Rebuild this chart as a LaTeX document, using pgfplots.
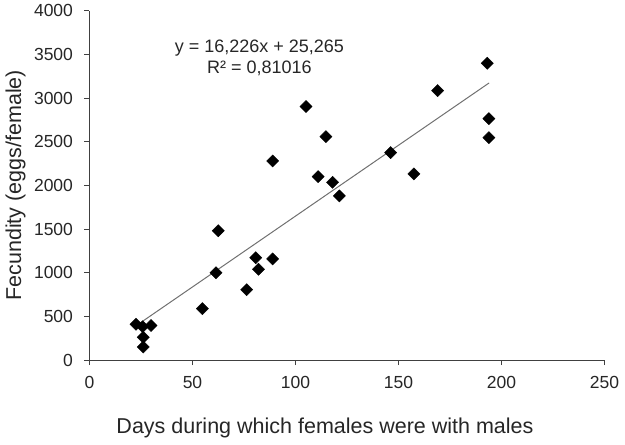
\documentclass[border=0pt]{standalone}
\usepackage{pgfplots}
\pgfplotsset{compat=1.18}
\usepackage{fontspec}
\setmainfont{Liberation Sans}
\definecolor{axisgray}{HTML}{404040}
\definecolor{linegray}{HTML}{707070}
\begin{document}
\begin{tikzpicture}
\begin{axis}[
  scale only axis,
  width=515pt, height=349.3pt,
  xmin=0, xmax=250, ymin=0, ymax=4000,
  axis x line*=bottom, axis y line*=left,
  axis line style={axisgray, line width=1pt, -},
  xtick={0,50,100,150,200,250},
  ytick={0,500,1000,1500,2000,2500,3000,3500,4000},
  tick align=outside,
  major tick length=5pt,
  tick style={axisgray, line width=1pt},
  /pgf/number format/assume math mode=true,
  /pgf/number format/1000 sep={},
  ticklabel style={font=\fontsize{17.5}{20}\selectfont, text=black!85},
  xticklabel style={yshift=-8pt},
  yticklabel style={xshift=-8pt},
  xlabel={Days during which females were with males},
  ylabel={Fecundity (eggs/female)},
  label style={font=\fontsize{21.5}{24}\selectfont, text=black!85},
  xlabel style={at={(axis description cs:0.5,0)}, anchor=center, yshift=-68pt, xshift=-22pt},
  ylabel style={at={(axis description cs:0,0.5)}, anchor=center, rotate=0, yshift=74pt},
  clip=false,
]
\addplot[linegray, line width=1pt] coordinates {(22.6,392) (194,3173)};
\addplot[only marks, mark=square*, mark size=4.3pt, mark options={rotate=45, fill=black, draw=black}] coordinates {
(22.6,409) (25.8,381) (29.9,395) (26.1,260) (26.1,150)
(54.8,588) (61.4,1000) (62.5,1481) (76.3,805) (80.7,1172) (82,1039) (88.9,1157)
(88.9,2279) (105.1,2902) (111,2100) (114.8,2558) (118,2035) (121.3,1879)
(146.2,2375) (157.5,2131) (169,3085) (193.1,3398) (193.9,2764) (193.9,2546)
};
\node[font=\fontsize{18}{21}\selectfont, text=black!85, align=center] at (axis cs:82.5,3465) {y = 16,226x + 25,265\\R² = 0,81016};
\end{axis}
\path[use as bounding box] (-89.5pt,-85pt) rectangle (535.5pt,360pt);
\end{tikzpicture}
\end{document}
